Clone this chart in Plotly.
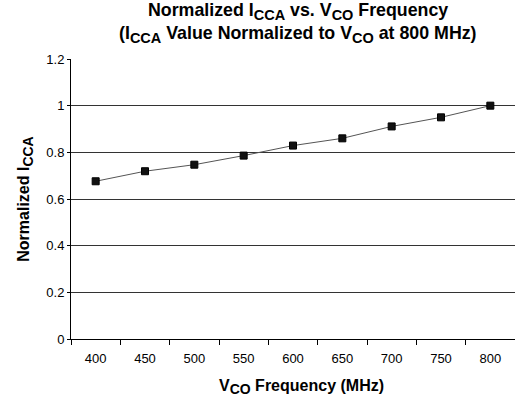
import plotly.graph_objects as go

freq = ["400", "450", "500", "550", "600", "650", "700", "750", "800"]
icca_norm = [0.676, 0.719, 0.747, 0.786, 0.829, 0.86, 0.911, 0.95, 1.0]
y_ticks = [0, 0.2, 0.4, 0.6, 0.8, 1, 1.2]
y_tick_text = ["0", "0.2", "0.4", "0.6", "0.8", "1", "1.2"]

FONT = "Liberation Sans, Arial, sans-serif"


def sub(t, px):
    return f'<sub><span style="font-size:{px}px">{t}</span></sub>'


fig = go.Figure()
fig.add_trace(go.Scatter(
    x=freq, y=icca_norm, mode="lines+markers",
    line=dict(color="#555555", width=1),
    marker=dict(symbol="square", size=7, color="#111111", line=dict(color="#000000", width=1)),
    showlegend=False,
))

title1 = f"<b>Normalized I{sub('CCA', 14.5)} vs. V{sub('CO', 14.5)} Frequency</b>"
title2 = f"<b>(I{sub('CCA', 14.5)} Value Normalized to V{sub('CO', 14.5)} at 800 MHz)</b>"

fig.add_annotation(text=title1, xref="paper", yref="paper", x=0.511, y=1.168,
                   xanchor="center", yanchor="middle", showarrow=False,
                   font=dict(size=17.8, family=FONT, color="black"))
fig.add_annotation(text=title2, xref="paper", yref="paper", x=0.511, y=1.086,
                   xanchor="center", yanchor="middle", showarrow=False,
                   font=dict(size=17.8, family=FONT, color="black"))
fig.add_annotation(text=f"<b>V{sub('CO', 14)} Frequency (MHz)</b>", xref="paper", yref="paper",
                   x=0.52, y=-0.172, xanchor="center", yanchor="middle", showarrow=False,
                   font=dict(size=16, family=FONT, color="black"))

fig.update_layout(
    width=515, height=400,
    paper_bgcolor="white", plot_bgcolor="white",
    margin=dict(l=71, r=0, t=59, b=61),
    font=dict(family=FONT, size=13, color="black"),
    xaxis=dict(
        type="category", tickson="boundaries", ticks="outside", ticklen=5,
        tickcolor="black", showline=True, linecolor="black", linewidth=1,
        showgrid=False, range=[-0.5, 8.5], ticklabelstandoff=7,
    ),
    yaxis=dict(
        range=[0, 1.2], tickvals=y_ticks, ticktext=y_tick_text,
        ticks="outside", ticklen=3, tickcolor="black",
        showline=True, linecolor="black", linewidth=1,
        showgrid=True, gridcolor="#333333", gridwidth=1,
        zeroline=False,
        title=dict(text=f"<b>Normalized I{sub('CCA', 14)}</b>", font=dict(size=16), standoff=12),
    ),
)

fig.write_html("out.html", config={"displayModeBar": False},
               post_script="document.body.style.margin='0';")
